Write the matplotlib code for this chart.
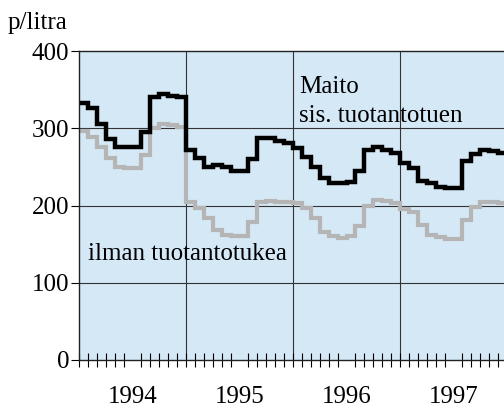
import numpy as np
import matplotlib.pyplot as plt

plt.rcParams['font.family'] = ['Liberation Serif', 'DejaVu Serif']

years = ["1994", "1995", "1996", "1997"]

# p/litra, kuukausittain 1994-1997
maito_tuki = [333, 326, 305, 286, 276, 276, 276, 295, 340, 344, 342, 340,
              272, 262, 250, 252, 250, 245, 245, 260, 287, 287, 284, 281,
              274, 263, 250, 236, 229, 229, 231, 245, 272, 276, 272, 268,
              255, 248, 232, 229, 224, 223, 223, 258, 267, 272, 271, 268]
maito_ilman = [296, 289, 276, 262, 250, 248, 248, 265, 300, 305, 304, 302,
               205, 197, 184, 168, 162, 160, 160, 178, 205, 206, 205, 204,
               203, 197, 184, 166, 160, 158, 160, 174, 200, 207, 206, 203,
               195, 192, 175, 162, 159, 157, 157, 181, 198, 205, 205, 203]

fig = plt.figure(figsize=(5.04, 4.08), dpi=100)
ax = fig.add_axes([79/504, 48/408, 428/504, 309/408])
ax.set_facecolor('#d5e8f6')

edges = np.arange(len(maito_tuki) + 1)
ax.stairs(maito_ilman, edges, color='#b5b5b5', lw=3.0, baseline=None)
ax.stairs(maito_tuki, edges, color='black', lw=3.2, baseline=None)

ax.set_xlim(0, 48)
ax.set_ylim(0, 400)

# ruudukko
for y in [100, 200, 300]:
    ax.axhline(y, color='#333333', lw=0.8, zorder=0.5)
for x in [12, 24, 36]:
    ax.axvline(x, color='#333333', lw=0.8, zorder=0.5)

fs = 18
ax.set_yticks([0, 100, 200, 300, 400])
ax.tick_params(axis='y', direction='out', length=6, width=0.8, labelsize=fs, pad=1)

ax.set_xticks([6, 18, 30, 42])
ax.set_xticklabels(years)
ax.tick_params(axis='x', which='major', length=0, labelsize=fs, pad=19)
ax.set_xticks(np.arange(0, 49), minor=True)
ax.tick_params(axis='x', which='minor', direction='inout', length=10, width=0.8)

for s in ['top', 'left', 'bottom']:
    ax.spines[s].set_linewidth(1.0)
    ax.spines[s].set_color('#222222')
ax.spines['right'].set_visible(False)

ax.text(24.7, 346, "Maito", fontsize=fs, va='baseline')
ax.text(24.7, 308, "sis. tuotantotuen", fontsize=fs, va='baseline')
ax.text(1.0, 129, "ilman tuotantotukea", fontsize=fs, va='baseline')

fig.text(8/504, 1 - 29/408, "p/litra", fontsize=fs, va='baseline')

fig.savefig("out.png", dpi=100)
